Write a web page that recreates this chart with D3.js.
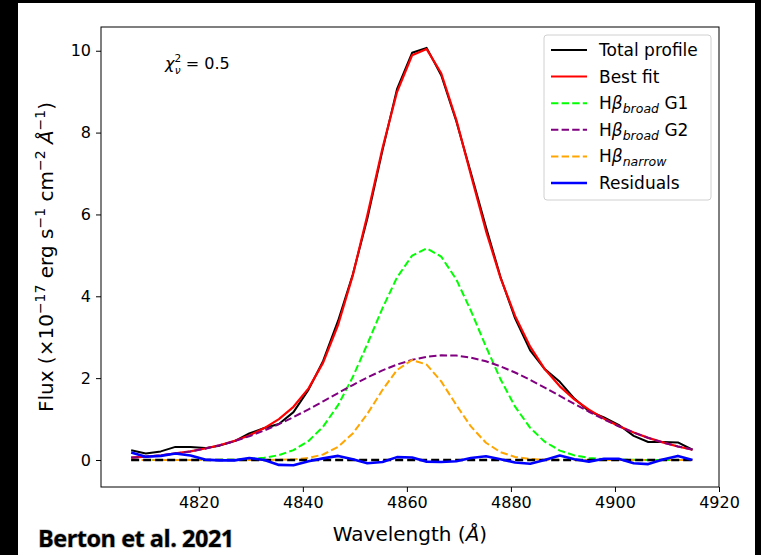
<!DOCTYPE html>
<html>
<head>
<meta charset="utf-8">
<script src="https://cdn.jsdelivr.net/npm/d3@7"></script>
<style>
  body { margin: 0; background: #000; }
  svg { display: block; }
  text { font-family: "DejaVu Sans", sans-serif; fill: #000; }
</style>
</head>
<body>
<div id="chart"></div>
<script>
// wavelength grid (Angstrom)
var wavelength = [4807.0, 4809.8, 4812.7, 4815.5, 4818.4, 4821.2, 4824.0, 4826.9, 4829.7, 4832.6,
  4835.4, 4838.2, 4841.1, 4843.9, 4846.8, 4849.6, 4852.4, 4855.3, 4858.1, 4861.0,
  4863.8, 4866.6, 4869.5, 4872.3, 4875.2, 4878.0, 4880.8, 4883.7, 4886.5, 4889.4,
  4892.2, 4895.0, 4897.9, 4900.7, 4903.6, 4906.4, 4909.2, 4912.1, 4914.9];

var totalProfile = [0.24, 0.16, 0.21, 0.32, 0.32, 0.29, 0.35, 0.46, 0.65, 0.78,
  0.88, 1.17, 1.72, 2.42, 3.41, 4.53, 5.90, 7.56, 9.06, 9.95,
  10.07, 9.40, 8.28, 7.02, 5.69, 4.47, 3.46, 2.68, 2.22, 1.91,
  1.50, 1.19, 1.04, 0.86, 0.59, 0.44, 0.44, 0.43, 0.25];

var bestFit = [0.06, 0.08, 0.11, 0.16, 0.21, 0.28, 0.36, 0.47, 0.60, 0.78,
  1.00, 1.30, 1.75, 2.38, 3.31, 4.51, 5.98, 7.61, 8.99, 9.89,
  10.04, 9.45, 8.31, 6.97, 5.60, 4.45, 3.52, 2.77, 2.22, 1.80,
  1.48, 1.23, 1.01, 0.83, 0.67, 0.54, 0.43, 0.33, 0.25];

var broadG1 = [0, 0, 0, 0, 0, 0.001, 0.003, 0.009, 0.022, 0.054,
  0.119, 0.241, 0.466, 0.815, 1.346, 2.026, 2.833, 3.707, 4.460, 4.995,
  5.170, 4.969, 4.412, 3.648, 2.772, 1.972, 1.303, 0.785, 0.446, 0.230,
  0.113, 0.051, 0.021, 0.008, 0.003, 0.001, 0, 0, 0];

var broadG2 = [0.058, 0.081, 0.114, 0.155, 0.210, 0.277, 0.359, 0.463, 0.581, 0.722,
  0.877, 1.048, 1.239, 1.433, 1.637, 1.832, 2.017, 2.190, 2.332, 2.447,
  2.522, 2.557, 2.551, 2.502, 2.411, 2.289, 2.138, 1.959, 1.770, 1.567,
  1.370, 1.179, 0.992, 0.825, 0.671, 0.541, 0.428, 0.331, 0.254];

var narrow = [0, 0, 0, 0, 0, 0, 0, 0, 0, 0.001,
  0.004, 0.015, 0.049, 0.134, 0.323, 0.649, 1.127, 1.708, 2.198, 2.444,
  2.331, 1.920, 1.344, 0.820, 0.421, 0.191, 0.074, 0.024, 0.007, 0.002,
  0, 0, 0, 0, 0, 0, 0, 0, 0];

var residuals = [0.18, 0.08, 0.10, 0.16, 0.11, 0.01, -0.01, -0.01, 0.05, 0.00,
  -0.12, -0.13, -0.03, 0.04, 0.10, 0.02, -0.08, -0.05, 0.07, 0.06,
  -0.04, -0.05, -0.03, 0.05, 0.09, 0.02, -0.06, -0.09, 0.00, 0.11,
  0.02, -0.04, 0.03, 0.03, -0.08, -0.10, 0.01, 0.10, 0.00];

var xTicks = [4820, 4840, 4860, 4880, 4900, 4920];
var yTicks = [0, 2, 4, 6, 8, 10];

var W = 761, H = 555;
var plot = {left: 101, top: 27, right: 719, bottom: 487};

var svg = d3.select("#chart").append("svg")
  .attr("width", W)
  .attr("height", H);

// white page on black
svg.append("rect")
  .attr("x", 18).attr("y", 3)
  .attr("width", 737).attr("height", 552)
  .attr("fill", "#fff");

var x = d3.scaleLinear().domain([4801.2, 4920]).range([plot.left, plot.right]);
var y = d3.scaleLinear().domain([-0.66, 10.58]).range([plot.bottom, plot.top]);

// axes
var xAxis = svg.append("g")
  .attr("transform", "translate(0," + plot.bottom + ")")
  .call(d3.axisBottom(x).tickValues(xTicks).tickSize(5).tickPadding(5).tickFormat(d3.format("d")));
var yAxis = svg.append("g")
  .attr("transform", "translate(" + plot.left + ",0)")
  .call(d3.axisLeft(y).tickValues(yTicks).tickSize(5).tickPadding(5).tickFormat(d3.format("d")));

[xAxis, yAxis].forEach(function(g) {
  g.select(".domain").remove();
  g.selectAll("text").style("font-family", "DejaVu Sans").style("font-size", "16px").attr("fill", "#000");
  g.selectAll("line").attr("stroke", "#000").attr("stroke-width", 1);
});

var pts = function(arr) {
  return wavelength.map(function(w, i) { return [w, arr[i]]; });
};

var line = d3.line()
  .x(function(d) { return x(d[0]); })
  .y(function(d) { return y(d[1]); });

var clip = svg.append("clipPath").attr("id", "clip")
  .append("rect")
  .attr("x", plot.left).attr("y", plot.top)
  .attr("width", plot.right - plot.left).attr("height", plot.bottom - plot.top);

var g = svg.append("g").attr("clip-path", "url(#clip)");

var series = [
  {name: "total", data: totalProfile, color: "#000000", width: 2, dash: null},
  {name: "fit", data: bestFit, color: "#ff0000", width: 2.2, dash: null},
  {name: "g1", data: broadG1, color: "#00ff00", width: 2, dash: "7.4,3.2"},
  {name: "g2", data: broadG2, color: "#800080", width: 2, dash: "7.4,3.2"},
  {name: "narrow", data: narrow, color: "#ffa500", width: 2, dash: "7.4,3.2"}
];

series.forEach(function(s) {
  g.append("path")
    .datum(pts(s.data))
    .attr("fill", "none")
    .attr("stroke", s.color)
    .attr("stroke-width", s.width)
    .attr("stroke-linejoin", "round")
    .attr("stroke-dasharray", s.dash)
    .attr("d", line);
});

// zero level
g.append("line")
  .attr("x1", x(wavelength[0])).attr("x2", x(wavelength[wavelength.length - 1]))
  .attr("y1", y(0)).attr("y2", y(0))
  .attr("stroke", "#000")
  .attr("stroke-width", 2.5)
  .attr("stroke-dasharray", "8,4");

g.append("path")
  .datum(pts(residuals))
  .attr("fill", "none")
  .attr("stroke", "#0000ff")
  .attr("stroke-width", 2.6)
  .attr("stroke-linejoin", "round")
  .attr("d", line);

// frame
svg.append("rect")
  .attr("x", plot.left).attr("y", plot.top)
  .attr("width", plot.right - plot.left).attr("height", plot.bottom - plot.top)
  .attr("fill", "none").attr("stroke", "#000").attr("stroke-width", 1);

// chi square label
var chi = svg.append("text").attr("x", 165).attr("y", 69).style("font-size", "16px");
chi.append("tspan").attr("font-style", "italic").text("χ");
chi.append("tspan").attr("dy", -7.5).style("font-size", "10.5px").text("2");
chi.append("tspan").attr("dx", -6.3).attr("dy", 12).style("font-size", "10.5px").attr("font-style", "italic").text("ν");
chi.append("tspan").attr("dy", -4.5).text(" = 0.5");

// legend
var legend = svg.append("g").attr("transform", "translate(544,35)");
legend.append("rect")
  .attr("width", 167).attr("height", 165)
  .attr("rx", 3)
  .attr("fill", "#fff").attr("fill-opacity", 0.8)
  .attr("stroke", "#d0d0d0").attr("stroke-width", 1);

var legendItems = [
  {color: "#000000", dash: null, parts: [["Total profile"]]},
  {color: "#ff0000", dash: null, parts: [["Best fit"]]},
  {color: "#00ff00", dash: "7.4,3.2", parts: [["H"], ["β", "it"], ["broad", "sub"], [" G1"]]},
  {color: "#800080", dash: "7.4,3.2", parts: [["H"], ["β", "it"], ["broad", "sub"], [" G2"]]},
  {color: "#ffa500", dash: "7.4,3.2", parts: [["H"], ["β", "it"], ["narrow", "sub"]]},
  {color: "#0000ff", dash: null, parts: [["Residuals"]]}
];

legendItems.forEach(function(item, i) {
  var cy = 15 + i * 26.6;
  legend.append("line")
    .attr("x1", 7).attr("x2", 43)
    .attr("y1", cy).attr("y2", cy)
    .attr("stroke", item.color)
    .attr("stroke-width", item.color === "#0000ff" ? 2.6 : 2)
    .attr("stroke-dasharray", item.dash);
  var t = legend.append("text").attr("x", 55).attr("y", cy + 6).style("font-size", "17px");
  var lowered = false;
  item.parts.forEach(function(p) {
    var sp = t.append("tspan").text(p[0]);
    if (p[1] === "it") sp.attr("font-style", "italic");
    if (p[1] === "sub") {
      sp.attr("font-style", "italic").style("font-size", "12.5px").attr("dy", 4);
      lowered = true;
    } else if (lowered) {
      sp.attr("dy", -4);
      lowered = false;
    }
  });
});

// axis labels
var xl = svg.append("text")
  .attr("x", (plot.left + plot.right) / 2)
  .attr("y", 541)
  .attr("text-anchor", "middle")
  .style("font-size", "20px");
xl.append("tspan").text("Wavelength (");
xl.append("tspan").attr("font-style", "italic").text("Å");
xl.append("tspan").text(")");

var yl = svg.append("text")
  .attr("transform", "translate(53," + ((plot.top + plot.bottom) / 2) + ") rotate(-90)")
  .attr("text-anchor", "middle")
  .style("font-size", "20px");
yl.append("tspan").text("Flux (×10");
yl.append("tspan").attr("dy", -8).style("font-size", "14px").text("−17");
yl.append("tspan").attr("dy", 8).text(" erg s");
yl.append("tspan").attr("dy", -8).style("font-size", "14px").text("−1");
yl.append("tspan").attr("dy", 8).text(" cm");
yl.append("tspan").attr("dy", -8).style("font-size", "14px").text("−2");
yl.append("tspan").attr("dy", 8).text(" ");
yl.append("tspan").attr("font-style", "italic").text("Å");
yl.append("tspan").attr("dy", -8).style("font-size", "14px").text("−1");
yl.append("tspan").attr("dy", 8).text(")");

// credit
svg.append("text")
  .attr("x", 38).attr("y", 547)
  .style("font-family", "'Open Sans', sans-serif")
  .style("font-weight", "700")
  .style("font-size", "23.5px")
  .style("letter-spacing", "-0.5px")
  .attr("fill", "#111")
  .style("paint-order", "stroke")
  .style("stroke", "rgba(0,0,0,0.25)")
  .style("stroke-width", "1.5px")
  .text("Berton et al. 2021");
</script>
</body>
</html>
